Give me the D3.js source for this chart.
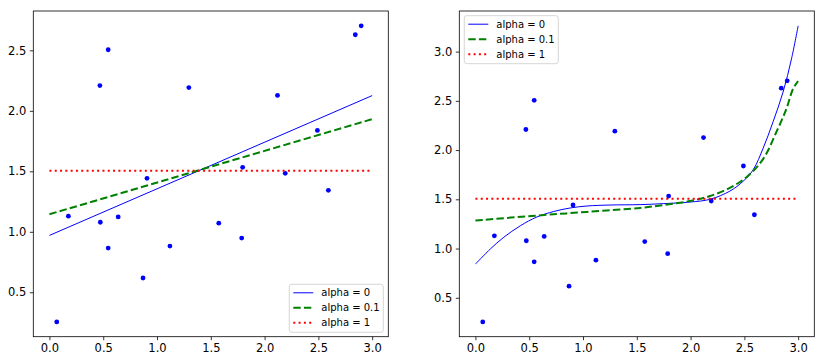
<!DOCTYPE html>
<html><head><meta charset="utf-8">
<script src="https://cdn.jsdelivr.net/npm/d3@7"></script>
<style>
html,body{margin:0;padding:0;background:#fff;}
svg{display:block;font-family:"DejaVu Sans",sans-serif;}
</style></head>
<body><svg id="c" width="824" height="364"></svg>
<script>
// ---- data ----
const pointX = [0.068, 0.176, 0.469, 0.473, 0.546, 0.546, 0.639, 0.870, 0.907, 1.120, 1.296, 1.574, 1.787, 1.796, 2.120, 2.192, 2.491, 2.593, 2.843, 2.898];
const pointY = [0.255, 1.129, 2.209, 1.079, 2.505, 0.865, 1.123, 0.618, 1.442, 0.882, 2.192, 1.071, 0.948, 1.533, 2.127, 1.483, 1.838, 1.343, 2.629, 2.703];

// left panel: straight-line fits
const linX = [0, 3];
const linAlpha0 = [0.970, 2.126];
const linAlpha01 = [1.145, 1.931];
const linAlpha1 = [1.505, 1.505];

// right panel: polynomial fits
const polyX0 = [0, 0.139, 0.263, 0.417, 0.572, 0.727, 0.881, 1.036, 1.252, 1.531, 1.747, 1.994, 2.18, 2.365, 2.489, 2.582, 2.675, 2.767, 2.860, 2.938, 3.0];
const polyAlpha0 = [0.842, 0.996, 1.114, 1.231, 1.321, 1.376, 1.412, 1.432, 1.442, 1.446, 1.456, 1.472, 1.50, 1.583, 1.684, 1.80, 2.02, 2.288, 2.59, 2.926, 3.262];
const polyX01 = [0, 0.572, 1.036, 1.531, 1.747, 1.994, 2.18, 2.365, 2.52, 2.675, 2.799, 2.891, 2.953, 3.0];
const polyAlpha01 = [1.285, 1.335, 1.372, 1.412, 1.442, 1.482, 1.533, 1.617, 1.725, 1.91, 2.187, 2.42, 2.624, 2.70];
const polyX1 = [0, 3];
const polyAlpha1 = [1.505, 1.505];

const xTicks = [0.0, 0.5, 1.0, 1.5, 2.0, 2.5, 3.0];
const yTicksLeft = [0.5, 1.0, 1.5, 2.0, 2.5];
const yTicksRight = [0.5, 1.0, 1.5, 2.0, 2.5, 3.0];
const legendLabels = ["alpha = 0", "alpha = 0.1", "alpha = 1"];

// ---- drawing ----
const svg = d3.select("#c");
const styles = [
  {color:"#0000ff", width:1, dash:null},
  {color:"#008000", width:2, dash:"7.4,3.2"},
  {color:"#ff0000", width:2, dash:"2,3.3"}
];

function pad(ext){ const r = ext[1]-ext[0]; return [ext[0]-0.05*r, ext[1]+0.05*r]; }

function panel(opt){
  const {x0,x1,y0,y1,series,yTicks,legendPos,curve} = opt;
  const allX = pointX.concat(...series.map(s=>s.x));
  const allY = pointY.concat(...series.map(s=>s.y));
  const xs = d3.scaleLinear().domain(pad(d3.extent(allX))).range([x0,x1]);
  const ys = d3.scaleLinear().domain(pad(d3.extent(allY))).range([y1,y0]);
  const g = svg.append("g");

  g.append("defs").append("clipPath").attr("id","clip"+x0)
    .append("rect").attr("x",x0).attr("y",y0).attr("width",x1-x0).attr("height",y1-y0);
  const plot = g.append("g").attr("clip-path","url(#clip"+x0+")");

  // points
  plot.selectAll("circle").data(pointX.map((v,i)=>[v,pointY[i]])).enter().append("circle")
    .attr("cx",d=>xs(d[0])).attr("cy",d=>ys(d[1])).attr("r",2.4).attr("fill","#0000ff");

  // lines
  series.forEach((s,i)=>{
    const st = styles[i];
    const line = d3.line().x(d=>xs(d[0])).y(d=>ys(d[1])).curve(curve);
    plot.append("path").datum(s.x.map((v,j)=>[v,s.y[j]]))
      .attr("d",line).attr("fill","none").attr("stroke",st.color)
      .attr("stroke-width",st.width).attr("stroke-dasharray",st.dash);
  });

  // axes
  const xa = g.append("g").attr("transform",`translate(0,${y1})`)
    .call(d3.axisBottom(xs).tickValues(xTicks).tickFormat(d3.format(".1f")).tickSizeOuter(0).tickSize(3.5).tickPadding(3.5));
  const ya = g.append("g").attr("transform",`translate(${x0},0)`)
    .call(d3.axisLeft(ys).tickValues(yTicks).tickFormat(d3.format(".1f")).tickSizeOuter(0).tickSize(3.5).tickPadding(3.5));
  [xa,ya].forEach(a=>{
    a.select(".domain").remove();
    a.selectAll(".tick line").attr("stroke","#000").attr("stroke-width",0.8);
    a.selectAll(".tick text").attr("fill","#000").style("font-size","11.5px").style("font-family","DejaVu Sans");
  });
  g.append("rect").attr("x",x0).attr("y",y0).attr("width",x1-x0).attr("height",y1-y0)
    .attr("fill","none").attr("stroke","#000").attr("stroke-width",0.8);

  // legend
  const lw = 94, lh = 48;
  const lg = g.append("g").attr("transform",`translate(${legendPos[0]},${legendPos[1]})`);
  lg.append("rect").attr("x",0).attr("y",0).attr("width",lw).attr("height",lh).attr("rx",2.5)
    .attr("fill","#fff").attr("fill-opacity",0.8).attr("stroke","#cccccc").attr("stroke-width",0.8);
  legendLabels.forEach((lab,i)=>{
    const cy = 8.5 + i*15;
    const st = styles[i];
    lg.append("line").attr("x1",4).attr("x2",24).attr("y1",cy).attr("y2",cy)
      .attr("stroke",st.color).attr("stroke-width",st.width).attr("stroke-dasharray",st.dash);
    lg.append("text").attr("x",32).attr("y",cy).attr("dy","0.35em")
      .style("font-size","10px").attr("fill","#000").text(lab);
  });
}

panel({
  x0:33.3, x1:388.3, y0:11, y1:336.7,
  series:[{x:linX,y:linAlpha0},{x:linX,y:linAlpha01},{x:linX,y:linAlpha1}],
  yTicks:yTicksLeft, legendPos:[289.3,284.3], curve:d3.curveLinear
});
panel({
  x0:459.3, x1:814.3, y0:11, y1:336.7,
  series:[{x:polyX0,y:polyAlpha0},{x:polyX01,y:polyAlpha01},{x:polyX1,y:polyAlpha1}],
  yTicks:yTicksRight, legendPos:[464.3,15.7], curve:d3.curveCatmullRom
});
</script></body></html>
